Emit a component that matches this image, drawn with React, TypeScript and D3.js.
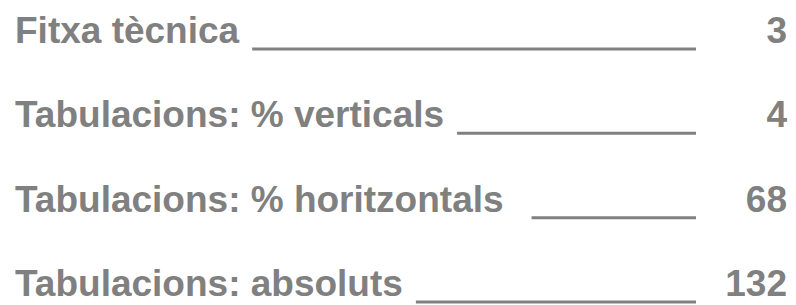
import * as d3 from 'd3';
import { useEffect, useRef } from 'react';

const sections = ['Fitxa tècnica', 'Tabulacions: % verticals', 'Tabulacions: % horitzontals', 'Tabulacions: absoluts'];
const pages = [3, 4, 68, 132];

const width = 796;
const height = 305;
const grey = '#808080';
const font = '"Liberation Sans", Arial, sans-serif';

export default function App() {
  const ref = useRef<SVGSVGElement>(null);

  useEffect(() => {
    const svg = d3.select(ref.current);
    svg.selectAll('*').remove();

    const rows = sections.map((label, i) => ({ label, page: pages[i] }));

    const y = d3.scalePoint<string>()
      .domain(sections)
      .range([43, 296]);

    const left = 15;
    const right = 787;
    const lineEnd = 696;

    const g = svg.append('g');

    const row = g.selectAll('g.row')
      .data(rows)
      .enter()
      .append('g')
      .attr('class', 'row')
      .attr('transform', (d) => `translate(0,${y(d.label)})`);

    const labels = row.append('text')
      .attr('x', left)
      .attr('fill', grey)
      .style('font-family', font)
      .style('font-weight', 'bold')
      .style('font-size', '37px')
      .text((d) => d.label);

    row.append('text')
      .attr('x', right)
      .attr('text-anchor', 'end')
      .attr('fill', grey)
      .style('font-family', font)
      .style('font-weight', 'bold')
      .style('font-size', '37px')
      .text((d) => d.page);

    // solid rule from the end of the title towards the page column
    labels.each(function (d, i) {
      const textEnd = left + (this as SVGTextElement).getComputedTextLength();
      const gap = i === 2 ? 28 : 13;
      d3.select((this as SVGTextElement).parentNode as SVGGElement)
        .append('line')
        .attr('x1', textEnd + gap)
        .attr('x2', lineEnd)
        .attr('y1', 6)
        .attr('y2', 6)
        .attr('stroke', grey)
        .attr('stroke-width', 3);
    });
  }, []);

  return (
    <svg
      ref={ref}
      width={width}
      height={height}
      style={{ position: 'absolute', left: 0, top: 0, background: '#fff' }}
      role="img"
      aria-label="Índex"
    />
  );
}
